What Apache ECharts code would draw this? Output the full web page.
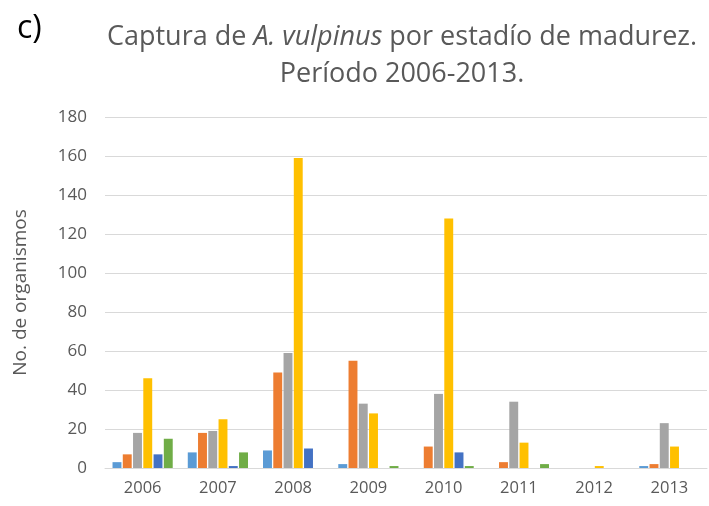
<!DOCTYPE html>
<html>
<head>
<meta charset="utf-8">
<script src="https://cdn.jsdelivr.net/npm/echarts@6/dist/echarts.min.js"></script>
<style>
  html, body { margin: 0; padding: 0; background: #fff; }
  #chart { width: 709px; height: 506px; }
</style>
</head>
<body>
<div id="chart"></div>
<script>
// datos
var years = ['2006', '2007', '2008', '2009', '2010', '2011', '2012', '2013'];
var stageNames = ['Estadío I', 'Estadío II', 'Estadío III', 'Estadío IV', 'Estadío V', 'Estadío VI'];
var stage1 = [3, 8, 9, 2, 0, 0, 0, 1];
var stage2 = [7, 18, 49, 55, 11, 3, 0, 2];
var stage3 = [18, 19, 59, 33, 38, 34, 0, 23];
var stage4 = [46, 25, 159, 28, 128, 13, 1, 11];
var stage5 = [7, 1, 10, 0, 8, 0, 0, 0];
var stage6 = [15, 8, 0, 1, 1, 2, 0, 0];
var yTicks = [0, 20, 40, 60, 80, 100, 120, 140, 160, 180];

var colors = ['#5B9BD5', '#ED7D31', '#A5A5A5', '#FFC000', '#4472C4', '#70AD47'];
var stages = [stage1, stage2, stage3, stage4, stage5, stage6];

var chart = echarts.init(document.getElementById('chart'));

var series = stages.map(function (vals, i) {
    return {
        name: stageNames[i],
        type: 'bar',
        data: vals,
        barGap: '15%',
        barCategoryGap: '20%',
        itemStyle: { color: colors[i] }
    };
});

chart.setOption({
    animation: false,
    textStyle: { fontFamily: 'Open Sans' },
    title: [{
        text: 'Captura de {i|A. vulpinus} por estadío de madurez.\nPeríodo 2006-2013.',
        left: 397,
        top: 14,
        textAlign: 'center',
        textStyle: {
            fontSize: 27,
            fontWeight: 'normal',
            color: '#595959',
            lineHeight: 37,
            rich: {
                i: { fontSize: 27, fontStyle: 'italic', color: '#595959' }
            }
        }
    }, {
        text: 'c)',
        left: 12,
        top: 8,
        textStyle: { fontSize: 32, fontWeight: 'normal', color: '#000' }
    }],
    legend: { show: false },
    grid: {
        left: 105,
        right: 2,
        top: 117,
        bottom: 38
    },
    xAxis: {
        type: 'category',
        data: years,
        axisLine: { lineStyle: { color: '#D9D9D9' } },
        axisTick: { show: false },
        axisLabel: { color: '#595959', fontSize: 16.5, margin: 12 }
    },
    yAxis: {
        type: 'value',
        min: yTicks[0],
        max: yTicks[yTicks.length - 1],
        interval: 20,
        name: 'No. de organismos',
        nameLocation: 'middle',
        nameGap: 75,
        nameTextStyle: { color: '#595959', fontSize: 19 },
        axisLine: { show: false },
        axisTick: { show: false },
        axisLabel: { color: '#595959', fontSize: 17, margin: 18 },
        splitLine: { lineStyle: { color: '#D9D9D9' } }
    },
    series: series
});
</script>
</body>
</html>
